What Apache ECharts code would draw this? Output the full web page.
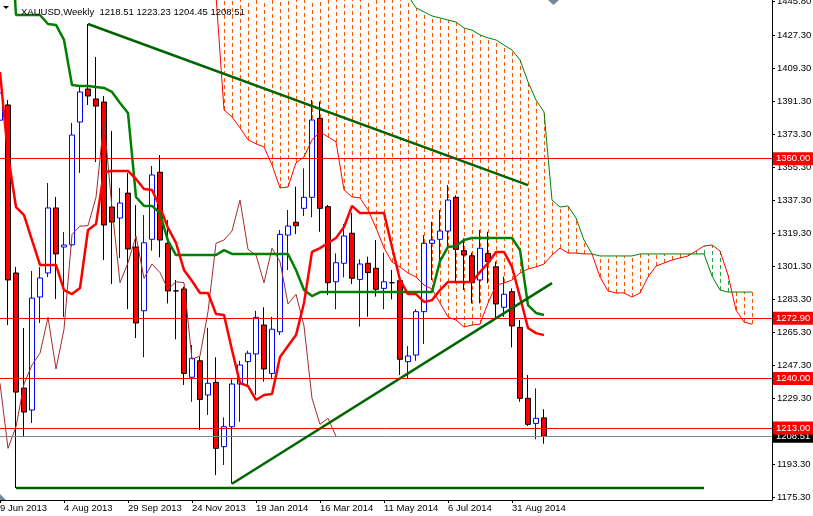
<!DOCTYPE html>
<html>
<head>
<meta charset="utf-8">
<script src="https://cdn.jsdelivr.net/npm/echarts@6/dist/echarts.min.js"></script>
<style>
html,body{margin:0;padding:0;background:#fff;}
#chart{width:813px;height:516px;}
</style>
</head>
<body>
<div id="chart"></div>
<script>
// ---- data (weekly XAUUSD, index 0 = week of 9 Jun 2013) ----
const titleText = 'XAUUSD,Weekly  1218.51 1223.23 1204.45 1208.51';
const slotCount = 97; // weekly slots incl. the 26-week forward cloud
const xTickLabels = ['9 Jun 2013','4 Aug 2013','29 Sep 2013','24 Nov 2013','19 Jan 2014','16 Mar 2014','11 May 2014','6 Jul 2014','31 Aug 2014'];
const yTickValues = [1175.3,1193.3,1211.3,1229.3,1247.3,1265.3,1283.3,1301.3,1319.3,1337.3,1355.3,1373.3,1391.3,1409.3,1427.3,1445.8];

const opens  = [1381.0,1389.3,1297.6,1234.8,1222.8,1284.5,1297.6,1333.1,1311.8,1313.0,1380.0,1398.0,1392.6,1390.9,1333.6,1327.6,1341.2,1311.8,1277.0,1316.0,1352.6,1313.8,1287.8,1288.9,1240.7,1249.7,1231.0,1237.9,1202.8,1213.7,1237.0,1249.2,1253.4,1269.2,1242.8,1265.5,1318.3,1325.3,1332.9,1338.9,1382.0,1333.8,1292.8,1302.9,1319.3,1294.1,1302.9,1300.2,1289.2,1292.3,1293.4,1249.2,1252.8,1276.5,1313.8,1316.0,1320.5,1338.9,1309.8,1307.0,1293.8,1308.3,1301.0,1278.9,1287.4,1267.9,1229.2,1215.5,1218.51];
const highs  = [1398.0,1392.0,1300.9,1267.6,1298.7,1300.9,1346.7,1339.1,1320.0,1379.5,1400.2,1433.5,1415.5,1394.2,1375.1,1344.0,1352.2,1334.7,1329.2,1356.0,1361.9,1326.5,1293.8,1290.1,1258.3,1251.9,1267.7,1251.6,1218.8,1239.6,1249.7,1255.2,1277.0,1278.9,1273.7,1321.1,1332.0,1344.7,1354.7,1392.0,1391.1,1334.7,1308.3,1324.3,1330.5,1305.1,1306.5,1315.6,1308.7,1299.2,1294.0,1257.7,1277.8,1318.3,1325.6,1332.0,1345.6,1340.0,1316.5,1308.7,1321.1,1320.1,1303.8,1295.6,1289.2,1271.9,1241.9,1234.6,1223.23];
const lows   = [1365.8,1269.2,1180.2,1208.1,1215.7,1270.3,1295.4,1283.4,1273.6,1312.0,1352.2,1389.3,1358.2,1304.7,1291.6,1305.8,1277.9,1262.1,1251.6,1309.8,1306.2,1281.0,1261.4,1236.5,1227.3,1211.9,1220.1,1187.3,1192.8,1182.6,1216.4,1236.5,1231.0,1238.3,1239.6,1263.7,1299.2,1318.9,1328.7,1328.0,1320.1,1285.6,1277.8,1295.2,1291.6,1268.3,1273.7,1284.7,1277.8,1283.2,1241.9,1240.3,1249.7,1258.8,1293.8,1304.7,1311.9,1292.0,1288.3,1281.0,1281.0,1292.0,1272.9,1273.7,1257.0,1227.3,1214.1,1206.8,1204.45];
const closes = [1395.8,1293.8,1232.6,1221.7,1283.9,1294.9,1333.1,1308.0,1312.9,1372.9,1396.4,1394.2,1388.7,1323.8,1325.4,1335.8,1310.7,1270.3,1314.1,1351.1,1315.6,1287.8,1287.8,1242.8,1251.0,1228.6,1237.4,1201.9,1213.7,1237.0,1247.4,1253.8,1273.4,1245.2,1266.9,1318.7,1323.2,1323.4,1338.9,1381.1,1332.9,1292.3,1303.2,1317.8,1294.7,1302.5,1297.8,1288.7,1292.8,1292.3,1250.5,1252.3,1276.5,1313.8,1315.6,1320.5,1337.4,1310.5,1307.4,1292.3,1311.1,1303.8,1280.7,1286.0,1268.7,1229.2,1215.0,1218.3,1208.51];

// Ichimoku lines
const tenkan = [1407.3,1362.0,1333.6,1329.2,1315.6,1302.0,1302.0,1302.0,1288.3,1286.1,1289.4,1321.1,1324.3,1352.7,1353.3,1353.3,1353.3,1348.9,1343.4,1342.9,1333.6,1322.2,1314.0,1299.2,1293.2,1286.7,1286.7,1275.2,1274.7,1255.6,1237.5,1235.9,1228.3,1231.0,1231.5,1251.7,1257.7,1263.7,1281.2,1309.1,1311.2,1314.0,1316.7,1322.7,1334.2,1330.3,1330.3,1330.3,1330.3,1311.8,1293.8,1286.1,1286.1,1281.8,1282.8,1288.3,1292.7,1292.7,1292.7,1292.7,1298.1,1303.0,1309.1,1309.1,1300.9,1284.5,1267.6,1264.8,1263.7];
const kijun  = [1510,1510,1438.4,1438.4,1438.4,1438.4,1433.5,1433.0,1424.8,1400.2,1399.7,1399.7,1399.1,1398.6,1396.4,1390.4,1384.9,1339.1,1334.2,1334.2,1330.3,1315.1,1307.4,1307.4,1307.4,1307.4,1307.4,1307.4,1310.1,1308.0,1308.0,1308.0,1308.0,1308.0,1308.0,1308.0,1308.0,1299.2,1288.3,1285.0,1287.2,1287.2,1287.2,1287.2,1287.2,1287.2,1287.2,1287.2,1287.2,1287.2,1287.2,1287.2,1287.2,1287.2,1287.2,1304.1,1311.8,1312.3,1315.6,1316.7,1316.7,1316.7,1316.7,1316.7,1316.7,1310.1,1280.1,1275.8,1274.7];
const chikou = [1237.4,1201.9,1213.7,1237.0,1247.4,1253.8,1273.4,1245.2,1266.9,1318.7,1323.2,1323.4,1338.9,1381.1,1332.9,1292.3,1303.2,1317.8,1294.7,1302.5,1297.8,1288.7,1292.8,1292.3,1250.5,1252.3,1276.5,1313.8,1315.6,1320.5,1337.4,1310.5,1307.4,1292.3,1311.1,1303.8,1280.7,1286.0,1268.7,1229.2,1215.0,1218.3,1208.51];
const cloudStart = 26;
const spanA = [1480,1449,1386.6,1382.8,1376.8,1370.3,1368.1,1366.4,1356.6,1344.0,1344.6,1357.7,1361.0,1370.3,1374.6,1371.9,1369.2,1343.0,1339.1,1338.6,1332.0,1322.2,1311.3,1303.6,1300.9,1297.6,1295.4,1291.0,1288.9,1281.2,1273.6,1271.9,1268.1,1269.2,1269.7,1281.2,1291.0,1292.1,1293.8,1297.6,1299.8,1300.9,1302.5,1307.4,1311.2,1308.5,1308.5,1308.0,1308.0,1295.4,1287.8,1286.7,1286.7,1284.5,1286.7,1295.4,1301.4,1303.0,1304.7,1305.8,1306.9,1309.6,1312.3,1312.9,1309.6,1296.5,1277.4,1270.8,1269.7];
const spanB = [1495,1495,1495,1495,1495,1495,1495,1490,1490,1490,1490,1485,1485,1480,1480,1480,1475,1470,1470,1465,1465,1460,1460,1455,1452,1449,1442.3,1440.1,1437.9,1436.8,1435.7,1434.6,1431.3,1430.2,1427.5,1425.9,1424.8,1422.0,1419.3,1413.9,1401.9,1392.0,1385.5,1337.4,1333.6,1334.2,1327.6,1315.6,1308.0,1306.9,1306.9,1306.9,1306.9,1306.9,1308.0,1308.0,1308.0,1308.0,1308.0,1308.0,1308.0,1308.0,1308.0,1296.0,1288.3,1287.2,1287.2,1287.2,1287.2];

// trendlines [slot, price]
const trendDown = [[11,1433.5],[66,1345.6]];
const trendUp   = [[29,1182.6],[69,1292.1]];
const supportLine = [[2,1180.2],[88,1180.2]];
const redLevels = [1360.00,1272.90,1240.00,1213.00];
const bidLevel = 1208.51;

// ---- build ----
const FONT = 'Liberation Sans';
const HATCH_DOWN = '#ff5500';
const HATCH_UP = '#22aa44';
const categories = [];
for (let i = 0; i < slotCount; i++) categories.push(String(i));
const candleData = opens.map((o, i) => [o, closes[i], lows[i], highs[i]]);
function padded(arr, start) {
  const out = new Array(slotCount).fill(null);
  arr.forEach((v, k) => { out[start + k] = v; });
  return out;
}
const hatchData = spanA.map((a, k) => [cloudStart + k, a]);

// bid line first so the red level labels are painted over it
const levelMarks = [{
  yAxis: bidLevel,
  lineStyle: {color: '#778899', width: 1, type: 'solid'},
  label: {formatter: bidLevel.toFixed(2), backgroundColor: '#000000', color: '#ffffff'}
}];
redLevels.forEach(v => levelMarks.push({
  yAxis: v,
  lineStyle: {color: '#ff0000', width: 1, type: 'solid'},
  label: {formatter: v.toFixed(2), backgroundColor: '#ff0000', color: '#ffffff'}
}));

const chart = echarts.init(document.getElementById('chart'), null, {renderer: 'canvas'});
chart.setOption({
  animation: false,
  backgroundColor: '#ffffff',
  title: {
    text: titleText, left: 16, top: 2,
    textStyle: {fontFamily: FONT, fontSize: 9.5, fontWeight: 'normal', color: '#000'}
  },
  // 97 slots * 8 px: every weekly slot lands on a whole pixel column
  grid: {left: -4, right: 41, top: 0, bottom: 16, containLabel: false, outerBoundsMode: 'none'},
  xAxis: {
    type: 'category', data: categories, boundaryGap: true,
    axisLine: {show: true, lineStyle: {color: '#000', width: 1}},
    axisTick: {show: true, alignWithLabel: true, length: 3, lineStyle: {color: '#000'},
      interval: (idx) => idx % 8 === 0 && idx / 8 < xTickLabels.length},
    axisLabel: {
      show: true, align: 'left', margin: 3, color: '#000', fontFamily: FONT, fontSize: 9.5,
      interval: (idx) => idx % 8 === 0 && idx / 8 < xTickLabels.length,
      formatter: (val, idx) => xTickLabels[idx / 8] || ''
    },
    splitLine: {show: false}
  },
  yAxis: {
    type: 'value', position: 'right', min: 1173.7, max: 1446.6, scale: true,
    axisLine: {show: true, lineStyle: {color: '#000', width: 1}},
    axisTick: {show: true, length: 3, lineStyle: {color: '#000'}, customValues: yTickValues},
    axisLabel: {show: true, margin: 5, color: '#000', fontFamily: FONT, fontSize: 9.5,
      customValues: yTickValues, formatter: v => v.toFixed(2)},
    splitLine: {show: false}
  },
  graphic: [
    {type: 'polygon', shape: {points: [[3,6],[9,6],[6,9]]}, style: {fill: '#000'}},
    {type: 'polygon', shape: {points: [[548,0],[559,0],[553.5,5]]}, style: {fill: '#778899'}},
    {type: 'polygon', shape: {points: [[0,494],[6,500],[0,500]]}, style: {fill: '#778899'}}
  ],
  series: [
    {
      name: 'cloud', type: 'custom', clip: false, z: 2,
      data: hatchData,
      renderItem: function (params, api) {
        const k = params.dataIndex;
        const slot = cloudStart + k;
        const a = spanA[k], b = spanB[k];
        const p1 = api.coord([slot, a]), p2 = api.coord([slot, b]);
        const top = params.coordSys.y, bottom = params.coordSys.y + params.coordSys.height;
        const yA = Math.min(Math.max(Math.round(p1[1]), top), bottom);
        const yB = Math.min(Math.max(Math.round(p2[1]), top), bottom);
        if (yA === yB) return null;
        const x = Math.round(p1[0]) + 0.5;
        const lo = Math.max(yA, yB), hi = Math.min(yA, yB);
        return {type: 'line', shape: {x1: x, y1: lo, x2: x, y2: hi},
          style: {stroke: b > a ? HATCH_DOWN : HATCH_UP, fill: null, lineWidth: 1, lineDash: [4, 3]}};
      }
    },
    {
      name: 'XAUUSD', type: 'candlestick', z: 3, data: candleData, barWidth: 5,
      itemStyle: {color: '#ffffff', color0: '#ff0000', borderColor: '#0000ff', borderColor0: '#000000',
        borderColorDoji: '#000000', borderWidth: 1}
    },
    {name: 'SpanA', type: 'line', z: 4, data: padded(spanA, cloudStart), showSymbol: false, symbol: 'none',
      lineStyle: {color: '#ff0000', width: 1}, connectNulls: false},
    {name: 'SpanB', type: 'line', z: 4, data: padded(spanB, cloudStart), showSymbol: false, symbol: 'none',
      lineStyle: {color: '#008000', width: 1}},
    {name: 'Chikou', type: 'line', z: 4, data: padded(chikou, 0), showSymbol: false, symbol: 'none',
      lineStyle: {color: '#a52a2a', width: 1}},
    {name: 'Kijun', type: 'line', z: 5, data: padded(kijun, 0), showSymbol: false, symbol: 'none',
      lineStyle: {color: '#008000', width: 2.5}},
    {name: 'Tenkan', type: 'line', z: 5, data: padded(tenkan, 0), showSymbol: false, symbol: 'none',
      lineStyle: {color: '#ff0000', width: 2.5}},
    {name: 'TrendDown', type: 'line', z: 6, data: trendDown, showSymbol: false, symbol: 'none',
      lineStyle: {color: '#006400', width: 2.5}},
    {name: 'TrendUp', type: 'line', z: 6, data: trendUp, showSymbol: false, symbol: 'none',
      lineStyle: {color: '#006400', width: 2.5}},
    {name: 'Support', type: 'line', z: 6, data: supportLine, showSymbol: false, symbol: 'none',
      lineStyle: {color: '#006400', width: 2.5},
      markLine: {
        silent: true, symbol: ['none', 'none'], animation: false,
        label: {show: true, position: 'end', distance: 1, padding: [2, 3, 1, 3],
          fontFamily: FONT, fontSize: 9.5},
        data: levelMarks
      }
    }
  ]
});
</script>
</body>
</html>
